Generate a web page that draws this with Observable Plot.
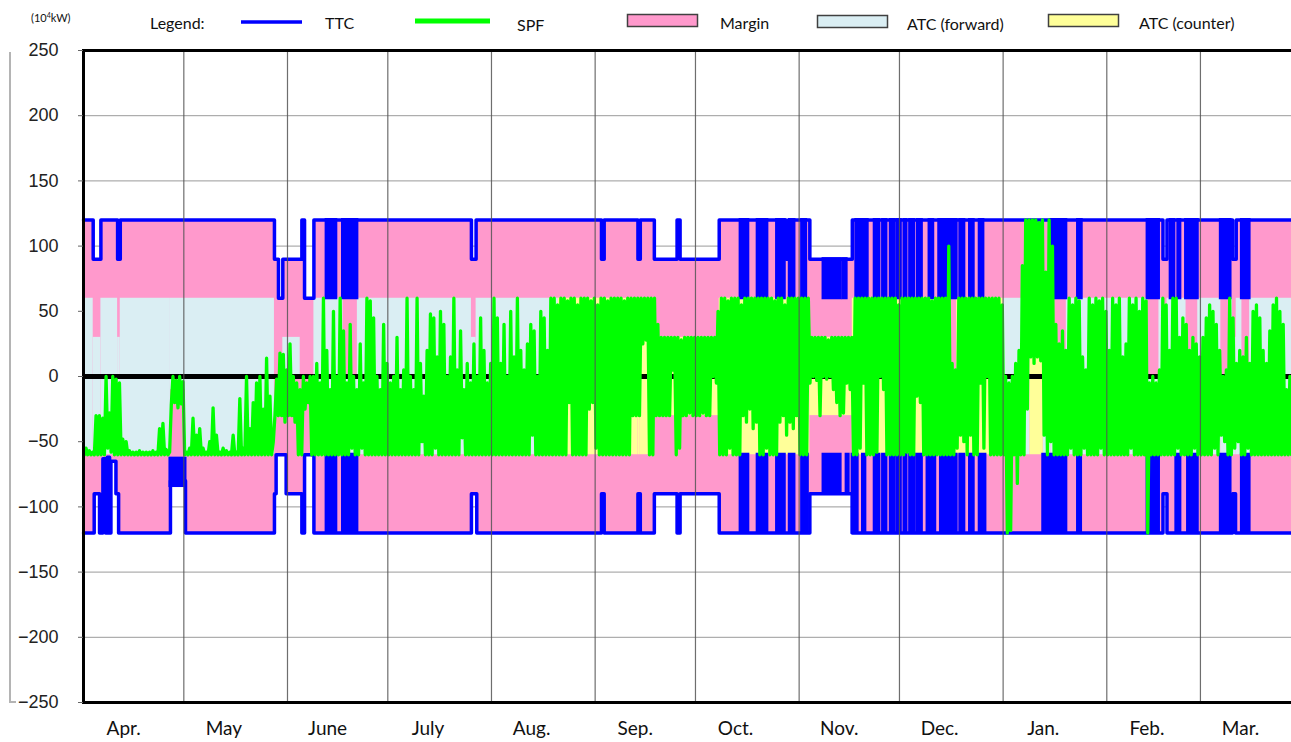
<!DOCTYPE html>
<html><head><meta charset="utf-8">
<script src="https://cdn.jsdelivr.net/npm/d3@7"></script>
<script src="https://cdn.jsdelivr.net/npm/@observablehq/plot@0.6"></script>
<style>
html,body{margin:0;padding:0;overflow:hidden;background:#fff;width:1291px;height:742px}
#wrap{position:relative;width:1291px;height:742px;overflow:hidden}
#chart{position:absolute;left:0;top:0;width:1310px;height:742px}
#chart svg{max-width:none !important;width:1310px !important;height:742px !important}
#legend{position:absolute;left:0;top:0;width:1291px;height:36px;overflow:hidden}
.vl{position:absolute;background:#b4b4b4}
</style></head><body>
<div id="wrap">
  <div id="chart"></div>
  <div id="legend"></div>
  <div class="vl" style="left:9px;top:52px;width:2px;height:651px"></div>
  <div class="vl" style="left:9px;top:701px;width:7px;height:2px"></div>
</div>
<script>
// ---------- data (day 0 = 1 April) ----------
const monthStarts = [0,30,61,91,122,153,183,214,244,275,306,334,365];
const monthLabels = ["Apr.","May","June","July","Aug.","Sep.","Oct.","Nov.","Dec.","Jan.","Feb.","Mar."];
const yTicks = [-250,-200,-150,-100,-50,0,50,100,150,200,250];
const legendLabels = ["TTC","SPF","Margin","ATC (forward)","ATC (counter)"];
const unitLabel = "kW";

// TTC forward direction, step change points [day, value]
const ttcFwd = [[0,120],[2.9,90],[5.2,120],[10.2,90],[11,120],[57.1,90],[58.3,60],[59.6,90],[65.3,120],[66.1,60],[68.9,120],
 [116,90],[117.4,120],[154.9,90],[155.7,120],[165.8,90],[166.5,120],[170.7,90],[177.5,120],[178.4,90],[190.1,120],
 [210.1,90],[210.9,120],[217.2,90],[229.9,120],[322.8,90],[324,120],[343.6,90],[344.7,120],[365,120]];
// TTC counter direction, step change points [day, value]
const ttcCtr = [[0,-120],[3.2,-90],[4.8,-120],[5.8,-63],[6.6,-120],[7.1,-62],[7.8,-120],[8.2,-65],[9.7,-90],[10.5,-120],
 [26,-80],[30.5,-120],[57.1,-90],[57.6,-60],[60.6,-90],[65.3,-120],[66.1,-60],[68.9,-120],[116,-90],[117.6,-120],
 [154.9,-90],[155.7,-120],[165.8,-90],[166.5,-120],[170.7,-90],[177.5,-120],[178.4,-90],[190.1,-120],[217.2,-90],
 [229.9,-120],[322.8,-90],[324,-120],[343.6,-90],[344.5,-120],[365,-120]];
// periods where TTC switches rapidly [start, end, low, high]
const fwdBlocks = [[72.7,75.6,60,120],[77.6,81.9,60,120],[196.5,198.8,60,120],[201.6,204.5,60,120],[207.4,209.7,60,120],
 [211.2,212.6,60,120],[214.9,216.1,60,120],[221.3,226.4,60,90],[227.2,228.2,60,90],[231.1,232.8,60,120],[233.4,234.5,60,120],
 [236.6,238,60,120],[239.1,240.1,60,120],[241.4,242.6,60,120],[243.5,244.4,60,120],[245.5,246.1,60,120],[247.2,248.4,60,120],
 [249.5,250.7,60,120],[253,254.1,60,120],[255.9,261.1,60,120],[262.2,263.4,60,120],[265.1,266.2,60,120],[268,269.1,60,120],
 [289.3,293.9,60,120],[297.4,298.5,60,120],[318.2,321.6,60,120],[325.1,326.2,60,120],[327.4,328,60,120],[329.7,333.2,60,120],
 [340.1,343,60,120],[346.4,348.7,60,120]];
const ctrBlocks = [[26,30.5,-84,-63],[72.7,75.6,-120,-60],[77.6,81.9,-120,-60],[196.5,198.8,-120,-60],[201.6,204.5,-120,-60],
 [207.4,209.7,-120,-60],[211.2,212.6,-120,-60],[214.9,216.6,-120,-60],[221.3,226.4,-90,-60],[228.2,228.8,-90,-60],
 [230,231.5,-120,-60],[233.1,233.8,-120,-60],[236.6,238,-120,-60],[239.1,240.1,-120,-60],[241.4,242.6,-120,-60],
 [243.5,244.4,-120,-60],[245.5,246.1,-120,-60],[247.2,248.4,-120,-60],[249.3,250.7,-120,-60],[252.4,254.7,-120,-60],
 [256.4,261.1,-120,-60],[262.2,263.4,-120,-60],[265.1,266.2,-120,-60],[268,269.7,-120,-60],[287,293.9,-120,-60],
 [297.4,298.3,-120,-60],[318.2,321.6,-120,-60],[326.8,328,-120,-60],[330.3,333.2,-120,-60],[340.1,343,-120,-60],
 [346.4,348.7,-120,-60]];
// ATC (forward) bands [start, end, low, high]
const atcFwd = [[0,2.9,-60,60],[2.9,5.2,-60,30],[5.2,10.2,-60,60],[10.2,11,-60,30],[11,26,-60,60],[26,30.5,-10,60],
 [30.5,57.1,-60,60],[59.6,64.8,0,30],[68.9,77.6,-60,60],[77.6,81.9,-60,0],[81.9,116,-60,60],[116,117.4,-60,30],
 [117.4,142,-60,60],[275,283,-60,60],[283,287,15,60],[287,289.3,-60,60],[289.3,293.9,-60,0],[293.9,318.2,-60,60],
 [318.2,321.6,-60,0],[321.6,322.8,-60,60],[322.8,324,-60,30],[324,329.7,-60,60],[329.7,333.2,-60,0],[333.2,340.1,-60,60],
 [340.1,343,-60,0],[343,343.6,-60,60],[343.6,344.7,-60,30],[344.7,346.4,-60,60],[346.4,348.7,-60,0],[348.7,365,-60,60]];
// ATC (counter) bands [start, end, low, high]
const atcCtr = [[142,154.9,-60,60],[154.9,155.7,-60,30],[155.7,165.8,-60,60],[165.8,166.5,-60,30],[166.5,170.7,-60,60],
 [170.7,190.1,-30,30],[190.1,217.2,-60,60],[217.2,229.9,-30,30],[229.9,255.9,-60,60],[255.9,261.1,-60,0],
 [261.1,275,-60,60],[283,287,-60,15]];

// SPF: daily high / low (one row per month, Apr .. Mar)
const spfHigh = [
 -55,-57,-58,-30,-30,-32,0,-28,0,-2,-5,-48,-50,-57,-58,-58,-57,-58,-58,-58,-57,-58,-40,-36,-56,-58,0,-3,0,-4,
 -58,-55,-32,-45,-40,-55,-58,-50,-24,-45,-58,-55,-57,-58,-45,-58,-17,-55,0,-40,-20,-5,0,-25,14,-15,-50,-2,18,17,5,
 25,0,-5,-10,0,-5,0,0,10,-5,60,20,-10,50,0,60,35,-5,40,0,-10,25,-5,60,58,45,0,-10,40,10,
 -5,0,30,-10,5,60,0,-10,60,10,-15,20,48,45,15,50,40,0,15,60,5,35,-10,10,-5,25,0,45,20,-5,10,
 60,45,10,40,0,50,15,60,20,5,25,40,35,0,50,45,20,60,60,55,60,60,58,60,60,55,60,60,60,58,60,
 55,60,60,58,60,60,60,60,58,60,60,60,60,60,60,60,60,60,40,30,30,30,30,30,30,28,30,30,30,30,
 30,30,30,30,30,30,50,60,60,58,60,60,60,55,60,60,60,60,60,60,60,60,60,58,60,60,55,60,60,60,60,
 60,60,60,30,30,30,30,30,28,30,30,30,30,30,30,30,60,60,60,60,60,60,60,60,60,60,60,60,60,55,
 60,60,60,60,60,60,60,60,60,58,60,60,60,60,100,10,5,60,60,60,60,60,60,60,60,60,60,60,60,60,55,
 0,-5,0,10,20,85,120,120,120,120,118,120,80,120,100,40,25,35,20,60,55,60,58,15,5,60,55,60,58,60,50,
 20,60,55,60,15,25,60,55,60,50,60,58,-5,0,-5,5,60,55,20,60,60,30,45,40,20,30,25,15,
 30,45,55,50,40,20,0,5,60,45,10,20,15,30,10,50,55,45,20,10,35,55,60,50,40,-10,0,-5,20,10,0];
const spfLow = [
 -60,-60,-60,-60,-60,-60,-60,-55,-58,-60,-60,-60,-60,-60,-60,-60,-60,-60,-60,-60,-60,-60,-60,-60,-60,-60,-22,-20,-24,-21,
 -60,-60,-60,-60,-60,-60,-60,-60,-60,-60,-60,-60,-60,-60,-60,-60,-60,-60,-60,-60,-60,-60,-60,-60,-60,-60,-60,-30,-30,-30,-35,
 -30,-30,-35,-60,-60,-25,-20,-60,-60,-60,-60,-60,-60,-60,-60,-60,-60,-60,-60,-55,-60,-60,-55,-60,-60,-60,-60,-60,-60,-60,
 -60,-60,-60,-60,-60,-60,-60,-60,-60,-60,-50,-60,-60,-60,-55,-60,-60,-60,-60,-60,-60,-60,-47,-60,-60,-60,-60,-60,-60,-60,-60,
 -60,-60,-60,-60,-60,-60,-60,-60,-60,-60,-60,-60,-45,-60,-60,-60,-60,-60,-60,-60,-60,-60,-60,-20,-60,-60,-60,-60,-60,-25,-20,
 -55,-60,-60,-60,-60,-60,-60,-60,-60,-60,-60,-30,-30,-30,25,28,-60,-60,-30,-30,-30,-30,-30,5,-60,-55,-30,-30,-28,-30,
 -30,-30,-28,-30,-30,0,-5,-60,-60,-60,-55,-60,-60,-60,-30,-35,-25,-40,-35,-60,-60,-55,-60,-60,-60,-35,-30,-45,-35,-40,-30,
 -60,-60,-60,-5,0,-3,-30,0,-2,0,-10,-20,-30,-28,-5,-10,-60,-60,-55,-5,-60,-60,-60,-58,0,-10,-60,-60,-60,-60,
 -60,-60,-58,-60,-60,-15,-20,-60,-60,-60,-60,-60,-60,-60,-60,-60,-60,-55,-45,-50,-60,-45,-60,-60,-5,-55,0,-60,-60,-60,-60,
 -60,-120,-118,-60,-82,-60,-60,-25,15,10,15,12,-45,-60,-50,-60,-60,-60,-60,-60,-55,-60,-60,-60,-55,-60,-60,-60,-60,-55,-60,
 -60,-60,-60,-60,-60,-60,-60,-55,-60,-60,-60,-60,-120,-60,-60,-60,-60,-60,-60,-60,-60,-55,-60,-60,-60,-60,-55,-60,
 -60,-60,-60,-60,-55,-60,-45,-50,-60,-60,-55,-50,-60,-60,-55,-60,-60,-60,-60,-60,-60,-60,-60,-60,-60,-60,-60,-60,-60,-60,-60];

// ---------- styles ----------
const BLUE = "#0000ff", GREEN = "#00ff00", PINK = "#ff99cc", LIGHT = "#daeef3", YELLOW = "#ffff99";

const fwd = ttcFwd.map(([x, y]) => ({x, y}));
const ctr = ttcCtr.map(([x, y]) => ({x, y}));
const spf = spfLow.flatMap((lo, i) => [{x: i + 0.25, y: lo}, {x: i + 0.75, y: spfHigh[i]}]);
const rectOpts = (fill) => ({x1: d => d[0], x2: d => d[1], y1: d => d[2], y2: d => d[3], fill});

const chart = Plot.plot({
  width: 1310, height: 742,
  marginLeft: 83, marginRight: 6.4, marginTop: 50, marginBottom: 40,
  x: {domain: [0, 365], axis: null},
  y: {domain: [-250, 250]},
  style: {fontFamily: "'Liberation Sans', Arial, sans-serif", background: "transparent", color: "#222", maxWidth: "none"},
  marks: [
    Plot.ruleY(yTicks.filter(v => Math.abs(v) < 250 && v !== 0), {stroke: "#9a9a9a", strokeWidth: 1}),
    Plot.areaY(fwd, {x: "x", y1: 0, y2: "y", curve: "step-after", fill: PINK}),
    Plot.areaY(ctr, {x: "x", y1: 0, y2: "y", curve: "step-after", fill: PINK}),
    Plot.rect(atcFwd, rectOpts(LIGHT)),
    Plot.rect(atcCtr, rectOpts(YELLOW)),
    Plot.rect(fwdBlocks, {...rectOpts(BLUE), stroke: BLUE, strokeWidth: 3}),
    Plot.rect(ctrBlocks, {...rectOpts(BLUE), stroke: BLUE, strokeWidth: 3}),
    Plot.line(fwd, {x: "x", y: "y", curve: "step-after", stroke: BLUE, strokeWidth: 3.5}),
    Plot.line(ctr, {x: "x", y: "y", curve: "step-after", stroke: BLUE, strokeWidth: 3.5}),
    Plot.ruleY([0], {stroke: "#000", strokeWidth: 5}),
    Plot.line(spf, {x: "x", y: "y", stroke: GREEN, strokeWidth: 3.3}),
    Plot.ruleX(monthStarts.slice(1, -1), {stroke: "#555", strokeWidth: 1.2, strokeOpacity: 0.85}),
    Plot.frame({stroke: "#000", strokeWidth: 3}),
    Plot.axisY(yTicks, {label: null, tickSize: 5, tickPadding: 20, fontSize: 18, stroke: "#666",
      tickFormat: d => d < 0 ? "\u2212" + (-d) : String(d)}),
    Plot.text(monthLabels, {x: (d, i) => monthStarts[i] + 12, frameAnchor: "bottom", dy: 32,
      fontSize: 19, fontFamily: "Lato, 'Open Sans', sans-serif", fill: "#111"})
  ]
});
document.getElementById("chart").appendChild(chart);

// ---------- legend (above the plot) ----------
const lg = d3.select("#legend").append("svg").attr("width", 1291).attr("height", 36)
  .style("font-family", "Lato, 'Open Sans', sans-serif").style("font-size", "16px");
const u = lg.append("text").attr("x", 31).attr("y", 22).style("font-size", "11px").attr("fill", "#111");
u.append("tspan").text("(10");
u.append("tspan").text("4").style("font-size", "7px").attr("dy", -4);
u.append("tspan").text(unitLabel + ")").attr("dy", 4);
lg.append("text").attr("x", 150).attr("y", 29).text("Legend:").attr("fill", "#111");
lg.append("line").attr("x1", 241).attr("x2", 302).attr("y1", 22).attr("y2", 22).attr("stroke", BLUE).attr("stroke-width", 3.5);
lg.append("line").attr("x1", 415).attr("x2", 490).attr("y1", 21).attr("y2", 21).attr("stroke", GREEN).attr("stroke-width", 5);
const boxes = [[627.5, 14.5, PINK], [817.5, 15.5, LIGHT], [1048.5, 14.5, YELLOW]];
boxes.forEach(([x, y, c]) => lg.append("rect").attr("x", x).attr("y", y).attr("width", 70).attr("height", 12)
  .attr("fill", c).attr("stroke", "#404040").attr("stroke-width", 1.5));
const labelPos = [[325, 29], [517, 31], [720, 29], [907, 30], [1139, 29]];
legendLabels.forEach((t, i) => lg.append("text").attr("x", labelPos[i][0]).attr("y", labelPos[i][1]).text(t).attr("fill", "#111"));
</script>
</body></html>
